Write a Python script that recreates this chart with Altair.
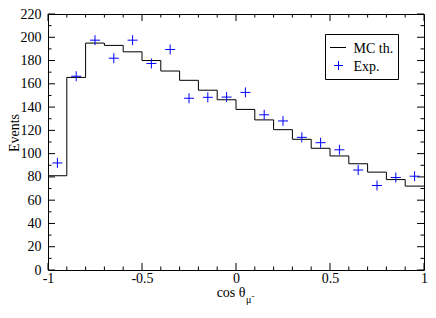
import altair as alt
import pandas as pd

# ---- data ----
bin_lo = [-1.0, -0.9, -0.8, -0.7, -0.6, -0.5, -0.4, -0.3, -0.2, -0.1,
          0.0, 0.1, 0.2, 0.3, 0.4, 0.5, 0.6, 0.7, 0.8, 0.9]
bin_hi_last = 1.0
centers = [-0.95, -0.85, -0.75, -0.65, -0.55, -0.45, -0.35, -0.25, -0.15, -0.05,
           0.05, 0.15, 0.25, 0.35, 0.45, 0.55, 0.65, 0.75, 0.85, 0.95]
mc_th = [81, 165.5, 195, 193, 187.5, 180, 171, 163, 154.5, 146.3,
         138, 129, 120.6, 112.3, 104.6, 98, 91.3, 84.1, 77.7, 72.1]
exp_vals = [92, 166.5, 197.5, 182, 197.5, 177.5, 189.5, 147.6, 148.4, 148.6,
            152.6, 133.4, 128.1, 114, 109.4, 103.3, 85.9, 72.6, 79.5, 80.6]

x_major = [-1, -0.5, 0, 0.5, 1]
x_minor = [-0.9, -0.8, -0.7, -0.6, -0.4, -0.3, -0.2, -0.1,
           0.1, 0.2, 0.3, 0.4, 0.6, 0.7, 0.8, 0.9]
y_major = [0, 20, 40, 60, 80, 100, 120, 140, 160, 180, 200, 220]
y_minor = [10, 30, 50, 70, 90, 110, 130, 150, 170, 190, 210]

W, H = 376, 256
FONT = "Liberation Serif"
PLUS = "M-1,0H1M0,-1V1"

xs = alt.Scale(domain=[-1, 1], nice=False, zero=False)
ys = alt.Scale(domain=[0, 220], nice=False, zero=False)
xaxis = alt.Axis(values=x_major, labelExpr="datum.value + ''", ticks=False, tickSize=0,
                 domain=False, grid=False, labelFont=FONT, labelFontSize=14,
                 labelColor="black", labelPadding=1, title=None,
                 labelFlush=False, labelOverlap=False)
yaxis = alt.Axis(values=y_major, ticks=False, tickSize=0, domain=False, grid=False,
                 labelFont=FONT, labelFontSize=14, labelColor="black",
                 labelPadding=7, title=None, labelFlush=False, labelOverlap=False)

hist_df = pd.DataFrame({"x": bin_lo + [bin_hi_last], "y": mc_th + [mc_th[-1]]})
exp_df = pd.DataFrame({"x": centers, "y": exp_vals})
one = pd.DataFrame({"d": [0]})

step = alt.Chart(hist_df).mark_line(interpolate="step-after", color="black",
                                     strokeWidth=1).encode(
    x=alt.X("x:Q", scale=xs, axis=xaxis),
    y=alt.Y("y:Q", scale=ys, axis=yaxis),
)

pts = alt.Chart(exp_df).mark_point(shape=PLUS, size=100, filled=False, color="blue",
                                    strokeWidth=1, opacity=1).encode(
    x=alt.X("x:Q", scale=xs, axis=xaxis),
    y=alt.Y("y:Q", scale=ys, axis=yaxis),
)


def xticks(vals, length):
    df = pd.DataFrame({"v": vals})
    bottom = alt.Chart(df).mark_rule(color="black", strokeWidth=1).encode(
        x=alt.X("v:Q", scale=xs, axis=xaxis), y=alt.value(H), y2=alt.value(H - length))
    top = alt.Chart(df).mark_rule(color="black", strokeWidth=1).encode(
        x=alt.X("v:Q", scale=xs, axis=xaxis), y=alt.value(0), y2=alt.value(length))
    return [bottom, top]


def yticks(vals, length):
    df = pd.DataFrame({"v": vals})
    left = alt.Chart(df).mark_rule(color="black", strokeWidth=1).encode(
        y=alt.Y("v:Q", scale=ys, axis=yaxis), x=alt.value(0), x2=alt.value(length))
    right = alt.Chart(df).mark_rule(color="black", strokeWidth=1).encode(
        y=alt.Y("v:Q", scale=ys, axis=yaxis), x=alt.value(W), x2=alt.value(W - length))
    return [left, right]


ticks = xticks(x_major, 7) + xticks(x_minor, 3.5) + yticks(y_major, 7) + yticks(y_minor, 3.5)


def txt(s, x, y, size=14, align="left", baseline="alphabetic", angle=0):
    kw = dict(text=s, font=FONT, fontSize=size, align=align, baseline=baseline,
              color="black")
    if angle:
        kw["angle"] = angle
    return alt.Chart(one).mark_text(**kw).encode(x=alt.value(x), y=alt.value(y))


xtitle = txt("cos θ", W / 2 + 9.5, H + 27, align="right")
xsub = txt("μ", W / 2 + 10, H + 33, size=10)
xsup = txt("-", W / 2 + 15.5, H + 29, size=9)
ytitle = txt("Events", -29, 119, align="center", angle=270)

RX = W  # legend placed relative to right edge of plot
leg_box = alt.Chart(one).mark_rect(fill="white", stroke="black", strokeWidth=1).encode(
    x=alt.value(RX - 98.5), x2=alt.value(RX - 25.5), y=alt.value(20.5), y2=alt.value(65.5))
leg_line = alt.Chart(one).mark_rule(color="black", strokeWidth=1).encode(
    x=alt.value(RX - 94), x2=alt.value(RX - 78), y=alt.value(33.5))
leg_pt = alt.Chart(one).mark_point(shape=PLUS, size=81, filled=False, color="blue",
                                   strokeWidth=1, opacity=1).encode(
    x=alt.value(RX - 85.5), y=alt.value(51.5))
leg_t1 = txt("MC th.", RX - 70.5, 38.5)
leg_t2 = txt("Exp.", RX - 70.5, 56.5)

chart = alt.layer(
    *ticks, step, pts, xtitle, xsub, xsup, ytitle,
    leg_box, leg_line, leg_pt, leg_t1, leg_t2,
).properties(
    width=W, height=H,
    autosize=alt.AutoSizeParams(type="none"),
    padding={"left": 40, "top": 6, "right": 4, "bottom": 36},
    background="white",
).configure_view(stroke="black", strokeWidth=1
).configure_axis(labelFont=FONT)

chart.save("out.html", embed_options={"renderer": "svg", "actions": False})
